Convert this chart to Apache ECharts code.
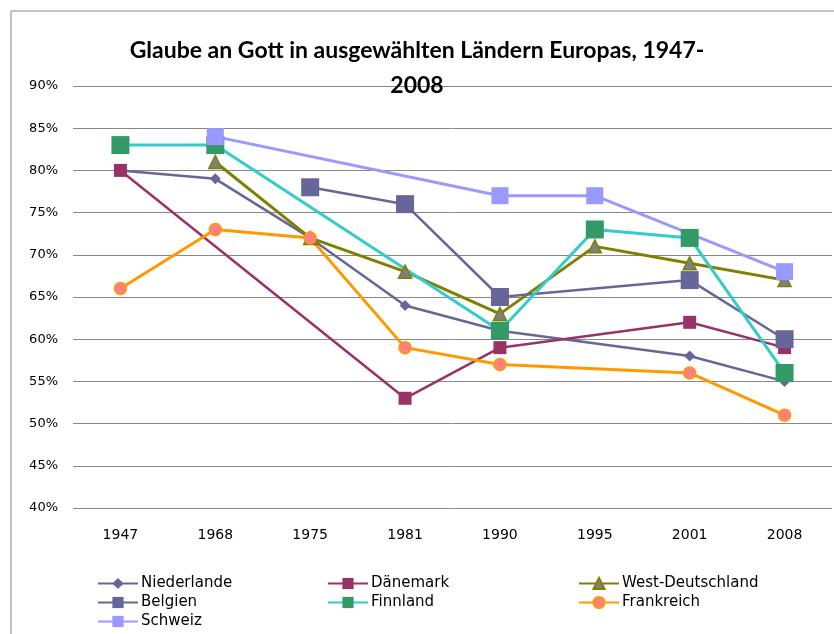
<!DOCTYPE html>
<html>
<head>
<meta charset="utf-8">
<script src="https://cdn.jsdelivr.net/npm/echarts@6/dist/echarts.min.js"></script>
<style>html,body{margin:0;padding:0;background:#fff}#c{width:834px;height:634px}</style>
</head>
<body>
<div id="c"></div>
<script>
const categories = ['1947', '1968', '1975', '1981', '1990', '1995', '2001', '2008'];
const niederlande = [80, 79, 72, 64, 61, null, 58, 55];
const daenemark = [80, null, null, 53, 59, null, 62, 59];
const westDeutschland = [null, 81, 72, 68, 63, 71, 69, 67];
const belgien = [null, null, 78, 76, 65, null, 67, 60];
const finnland = [83, 83, null, null, 61, 73, 72, 56];
const frankreich = [66, 73, 72, 59, 57, null, 56, 51];
const schweiz = [null, 84, null, null, 77, 77, null, 68];
const yTicks = { min: 40, max: 90, interval: 5 };

const chart = echarts.init(document.getElementById('c'), null, { renderer: 'canvas' });

function mk(name, data, lineColor, lw, symbol, size, fill, border, bw) {
  return {
    name, type: 'line', data, connectNulls: true, symbol, symbolSize: size,
    lineStyle: { color: lineColor, width: lw },
    itemStyle: { color: fill, borderColor: border || fill, borderWidth: bw || 0 },
    emphasis: { disabled: true }
  };
}

const legendFont = { fontFamily: 'DejaVu Sans', fontSize: 15, color: '#000' };
function lg(name, x, y) {
  return { data: [name], left: x, top: y, itemWidth: 40, itemHeight: 14, itemGap: 0, padding: 0,
           textStyle: Object.assign({}, legendFont, { padding: [0, 0, 0, -2] }), selectedMode: false };
}

chart.setOption({
  animation: false,
  title: {
    text: 'Glaube an Gott in ausgewählten Ländern Europas, 1947-\n2008',
    left: 'center', top: 33, padding: 0,
    textStyle: { fontFamily: 'Lato', fontWeight: 'bold', fontSize: 23, lineHeight: 35, color: '#000' }
  },
  graphic: [{ type: 'rect', shape: { x: 11, y: 11, width: 900, height: 700 },
              style: { fill: 'none', stroke: '#888', lineWidth: 1 }, silent: true }],
  grid: { left: 73, right: 2, top: 86, bottom: 126 },
  xAxis: {
    type: 'category', data: categories, boundaryGap: true,
    axisLine: { show: false }, axisTick: { show: false },
    axisLabel: { margin: 20, fontFamily: 'DejaVu Sans', fontSize: 14, color: '#000' }
  },
  yAxis: {
    type: 'value', min: yTicks.min, max: yTicks.max, interval: yTicks.interval,
    axisLine: { show: false }, axisTick: { show: false },
    axisLabel: { formatter: '{value}%', margin: 15, fontFamily: 'DejaVu Sans', fontSize: 13, color: '#000' },
    splitLine: { lineStyle: { color: '#888', width: 1 } }
  },
  legend: [
    lg('Niederlande', 97, 576), lg('Dänemark', 327, 576), lg('West-Deutschland', 578, 576),
    lg('Belgien', 97, 595), lg('Finnland', 327, 595), lg('Frankreich', 578, 595),
    lg('Schweiz', 97, 614)
  ],
  series: [
    mk('Niederlande', niederlande, '#666699', 2.5, 'diamond', 11, '#666699'),
    mk('Dänemark', daenemark, '#993366', 2.5, 'rect', 13, '#993366'),
    mk('West-Deutschland', westDeutschland, '#808000', 3, 'triangle', 13, '#808080', '#808000', 1.5),
    mk('Belgien', belgien, '#666699', 2.5, 'rect', 18, '#666699'),
    mk('Finnland', finnland, '#33CCCC', 3, 'rect', 18, '#339966'),
    mk('Frankreich', frankreich, '#FF9900', 3, 'circle', 12, '#FF8080', '#FF9900', 1.5),
    mk('Schweiz', schweiz, '#9999FF', 3, 'rect', 17, '#9999FF')
  ]
});
</script>
</body>
</html>
